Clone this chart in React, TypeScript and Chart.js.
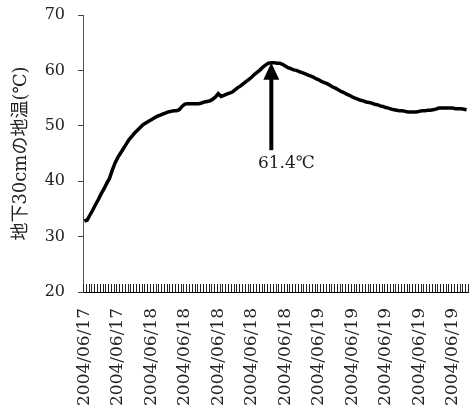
import React, { useEffect, useRef } from "react";
import { Chart, registerables } from "chart.js";

Chart.register(...registerables);

const tickLabels = [
  "2004/06/17", "2004/06/17",
  "2004/06/18", "2004/06/18", "2004/06/18", "2004/06/18", "2004/06/18",
  "2004/06/19", "2004/06/19", "2004/06/19", "2004/06/19", "2004/06/19",
];
const labelEvery = 12;

const temperature = [
  32.8, 33.0, 33.9, 34.8, 35.8, 36.7, 37.7, 38.6, 39.6, 40.5,
  42.0, 43.3, 44.3, 45.1, 45.9, 46.7, 47.5, 48.1, 48.7, 49.2,
  49.7, 50.2, 50.5, 50.8, 51.1, 51.4, 51.7, 51.9, 52.1, 52.3,
  52.5, 52.6, 52.7, 52.7, 52.9, 53.5, 53.9, 54.0, 54.0, 54.0,
  54.0, 54.0, 54.1, 54.3, 54.4, 54.5, 54.8, 55.2, 55.8, 55.3,
  55.5, 55.7, 55.9, 56.1, 56.5, 56.9, 57.2, 57.6, 58.0, 58.4,
  58.8, 59.3, 59.7, 60.1, 60.6, 61.0, 61.3, 61.4, 61.4, 61.3,
  61.3, 61.1, 60.8, 60.5, 60.3, 60.1, 60.0, 59.8, 59.6, 59.4,
  59.2, 59.0, 58.8, 58.5, 58.3, 58.0, 57.8, 57.6, 57.3, 57.0,
  56.8, 56.5, 56.2, 56.0, 55.7, 55.5, 55.2, 55.0, 54.8, 54.6,
  54.5, 54.3, 54.2, 54.1, 53.9, 53.8, 53.6, 53.5, 53.3, 53.2,
  53.0, 52.9, 52.8, 52.7, 52.7, 52.6, 52.5, 52.5, 52.5, 52.5,
  52.6, 52.7, 52.7, 52.8, 52.8, 52.9, 53.0, 53.2, 53.2, 53.2,
  53.2, 53.2, 53.2, 53.1, 53.1, 53.1, 53.0, 52.9,
];

const categories = temperature.map((_, i) =>
  i % labelEvery === 0 && tickLabels[i / labelEvery] ? tickLabels[i / labelEvery] : ""
);

const peakIndex = 67;
const peakLabel = "61.4℃";
const arrowTailValue = 45.6;
const annotationValue = 43.1;
const yTitle = "地下30cmの地温(℃)";
const yMin = 20;
const yMax = 70;
const yStep = 10;

const SERIF = '"DejaVu Serif", "Noto Sans CJK JP", serif';
const W = 469;
const H = 416;

const arrowPlugin = {
  id: "peakArrow",
  afterDatasetsDraw(chart: any) {
    const { ctx, scales } = chart;
    const x = scales.x;
    const y = scales.y;
    const px = x.getPixelForValue(peakIndex);
    const tipY = y.getPixelForValue(temperature[peakIndex]);
    const tailY = y.getPixelForValue(arrowTailValue);
    ctx.save();
    ctx.strokeStyle = "#000";
    ctx.fillStyle = "#000";
    ctx.lineWidth = 4;
    ctx.beginPath();
    ctx.moveTo(px, tailY);
    ctx.lineTo(px, tipY + 14);
    ctx.stroke();
    ctx.beginPath();
    ctx.moveTo(px, tipY);
    ctx.lineTo(px - 8, tipY + 17);
    ctx.lineTo(px + 8, tipY + 17);
    ctx.closePath();
    ctx.fill();
    ctx.font = "17px " + SERIF;
    ctx.textAlign = "center";
    ctx.textBaseline = "middle";
    ctx.fillStyle = "#222";
    ctx.fillText(peakLabel, px + 15, y.getPixelForValue(annotationValue));
    ctx.restore();
  },
};

const innerTicksPlugin = {
  id: "innerTicks",
  afterDraw(chart: any) {
    const { ctx, scales, chartArea } = chart;
    const x = scales.x;
    const n = temperature.length;
    const w = x.getPixelForValue(1) - x.getPixelForValue(0);
    ctx.save();
    ctx.strokeStyle = "#222";
    ctx.lineWidth = 1;
    ctx.beginPath();
    for (let i = 0; i <= n; i++) {
      const px = Math.round(x.getPixelForValue(i) - w / 2) + 0.5;
      ctx.moveTo(px, chartArea.bottom);
      ctx.lineTo(px, chartArea.bottom - 8);
    }
    ctx.stroke();
    ctx.restore();
  },
};

export default function App() {
  const canvasRef = useRef<HTMLCanvasElement | null>(null);

  useEffect(() => {
    document.body.style.margin = "0";
    document.body.style.overflow = "hidden";
    const canvas = canvasRef.current;
    if (!canvas) return;
    const chart = new Chart(canvas, {
      type: "line",
      data: {
        labels: categories,
        datasets: [
          {
            data: temperature,
            borderColor: "#000",
            borderWidth: 3.5,
            pointRadius: 0,
            tension: 0,
            fill: false,
          },
        ],
      },
      options: {
        animation: false,
        responsive: false,
        devicePixelRatio: 1,
        layout: { padding: { top: 15, right: 1, left: 0, bottom: 0 } },
        plugins: {
          legend: { display: false },
          tooltip: { enabled: false },
        },
        scales: {
          x: {
            type: "category",
            offset: true,
            grid: { display: false, drawTicks: false },
            border: { display: true, color: "#000", width: 1 },
            ticks: {
              autoSkip: false,
              maxRotation: 90,
              minRotation: 90,
              padding: 16,
              color: "#222",
              font: { family: SERIF, size: 17 },
            },
            afterFit: (scale: any) => {
              scale.height = 124;
              scale.paddingLeft = 0;
              scale.paddingRight = 0;
            },
          },
          y: {
            min: yMin,
            max: yMax,
            ticks: {
              stepSize: yStep,
              padding: 13,
              color: "#222",
              font: { family: SERIF, size: 16 },
            },
            grid: { drawOnChartArea: false, tickLength: 5, color: "#444" },
            border: { display: true, color: "#555", width: 1 },
            title: {
              display: true,
              text: yTitle,
              color: "#222",
              font: { family: SERIF, size: 18 },
              padding: { top: 11, bottom: 0 },
            },
            afterFit: (scale: any) => {
              scale.width = 83;
              scale.paddingTop = 0;
              scale.paddingBottom = 0;
            },
          },
        },
      },
      plugins: [arrowPlugin, innerTicksPlugin],
    });
    return () => chart.destroy();
  }, []);

  return (
    <div style={{ width: W, height: H }}>
      <canvas ref={canvasRef} width={W} height={H} style={{ display: "block", width: W, height: H }} />
    </div>
  );
}
